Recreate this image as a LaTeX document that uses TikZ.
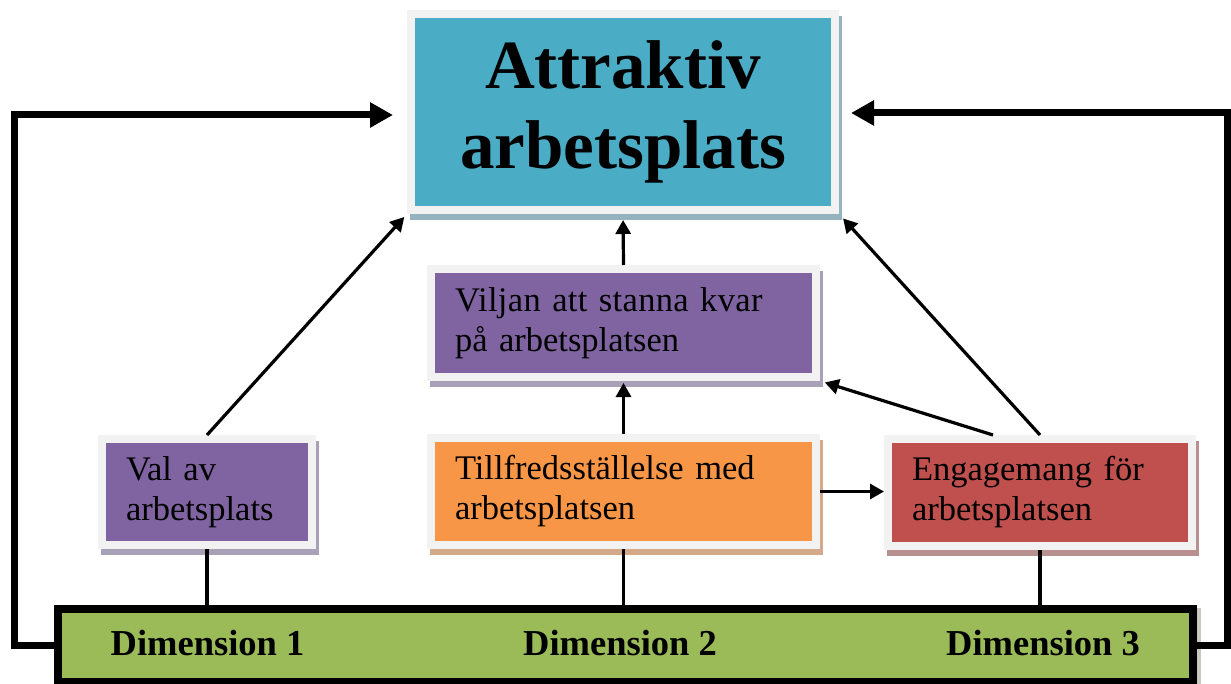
\documentclass[tikz,border=0pt]{standalone}
\usepackage{fontspec}
\setmainfont{Liberation Serif}
\usetikzlibrary{arrows.meta,shadows,calc}
\definecolor{framecol}{HTML}{F2F2F2}
\definecolor{tealc}{HTML}{4BACC6}
\definecolor{tealsh}{HTML}{94B3BE}
\definecolor{purplec}{HTML}{8064A2}
\definecolor{purplesh}{HTML}{A7A0B6}
\definecolor{orangec}{HTML}{F79646}
\definecolor{orangesh}{HTML}{D4A98A}
\definecolor{redc}{HTML}{C0504D}
\definecolor{redsh}{HTML}{B89090}
\definecolor{greenc}{HTML}{9BBB59}
\definecolor{greensh}{HTML}{C8C8C0}
\begin{document}
\begin{tikzpicture}[x=1pt,y=-1pt,
  box/.style={draw=framecol, line width=8pt, inner sep=0pt, outer sep=4pt},
  boxshadow/.style={general shadow={draw=#1, fill=#1, line width=8pt, shadow xshift=3pt, shadow yshift=-6pt}},
  txt/.style={text width=#1, align=left, inner xsep=24pt, inner ysep=0pt, font=\fontsize{34.5}{40}\selectfont},
  link/.style={line width=3.2pt},
  tarrow/.style={line width=3.2pt, -{Triangle[length=14pt,width=15pt]}},
  bigarrow/.style={line width=7pt, -{Triangle[length=23pt,width=24pt]}},
  dimlabel/.style={font=\fontsize{36.5}{40}\selectfont\bfseries, inner sep=0pt, anchor=base}
]
\useasboundingbox (0,0) rectangle (1231,684);

\node[box, fill=tealc, boxshadow=tealsh, minimum width=424pt, minimum height=196pt,
      align=center, font=\fontsize{69}{80}\selectfont\bfseries] (top) at (623,112) {Attraktiv\\arbetsplats};
\node[box, txt=337pt, fill=purplec, boxshadow=purplesh, minimum width=385pt, minimum height=108pt]
      (vilja) at (623.5,323) {{\addfontfeatures{LetterSpace=0.95}Viljan att stanna kvar}\\på arbetsplatsen};
\node[box, txt=337pt, fill=orangec, boxshadow=orangesh, minimum width=385pt, minimum height=107pt]
      (till) at (623.5,491.5) {Tillfredsställelse med\\arbetsplatsen};
\node[box, txt=162pt, fill=purplec, boxshadow=purplesh, minimum width=210pt, minimum height=106pt]
      (val) at (207,492) {Val av\\arbetsplats};
\node[box, txt=256pt, fill=redc, boxshadow=redsh, minimum width=304pt, minimum height=107pt]
      (eng) at (1040,492.5) {Engagemang för\\arbetsplatsen};

\node[draw=black, line width=8pt, fill=greenc, inner sep=0pt, outer sep=4pt,
      minimum width=1135pt, minimum height=73pt,
      general shadow={draw=greensh, fill=greensh, line width=8pt, shadow xshift=4pt, shadow yshift=-3pt}]
      (bar) at (625.5,645.5) {};
\node[dimlabel] (d1) at (207.5,655) {Dimension 1};
\node[dimlabel] (d2) at (620,655) {Dimension 2};
\node[dimlabel] (d3) at (1043,655) {Dimension 3};

\draw[tarrow, shorten >=4pt] (val.north) -- (top.south west);
\draw[tarrow, shorten >=6pt] (vilja.north) -- (top.south);
\draw[tarrow, shorten >=6pt] (eng.north) -- (top.south east);
\draw[tarrow, shorten >=2pt] (till.north) -- (vilja.south);
\draw[tarrow] (till.east) -- (till.east -| eng.west);
\draw[tarrow, shorten >=5pt] ([xshift=-47pt]eng.north) -- (vilja.south east);

\draw[link] (val.south) -- (val.south |- bar.north);
\draw[link] (till.south) -- (till.south |- bar.north);
\draw[link] (eng.south) -- (eng.south |- bar.north);

\coordinate (lc) at (14,400);
\coordinate (rc) at (1227.5,400);
\draw[bigarrow, shorten >=14pt] (bar.west) -| (lc) |- ([yshift=-3pt]top.west);
\draw[bigarrow, shorten >=12pt] (bar.east) -| (rc) |- ([yshift=-1pt]top.east);
\end{tikzpicture}
\end{document}
